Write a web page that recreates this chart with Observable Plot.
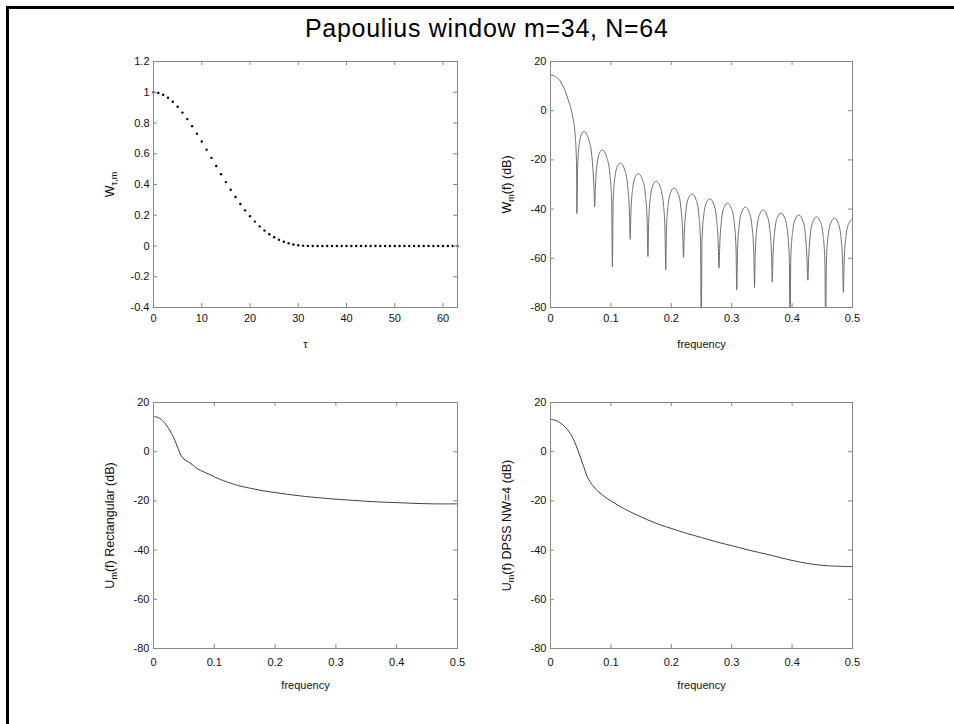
<!DOCTYPE html>
<html>
<head>
<meta charset="utf-8">
<script src="https://cdn.jsdelivr.net/npm/d3@7"></script>
<script src="https://cdn.jsdelivr.net/npm/@observablehq/plot@0.6"></script>
<style>
  body { margin: 0; background: #fff; }
  #fig { position: relative; width: 954px; height: 724px; overflow: hidden; background: #fff;
         font-family: "Liberation Sans", Arial, sans-serif; }
  .panel { position: absolute; }
  .panel svg { background: transparent !important; max-width: none !important; overflow: visible; }
  #border { position: absolute; left: 6px; top: 6px; right: -20px; bottom: -20px;
            border-left: 3px solid #000; border-top: 3px solid #000; z-index: 5; pointer-events: none; }
  #title { position: absolute; left: 305px; top: 16px; font-size: 25px; line-height: 25px;
           letter-spacing: 0.7px; color: #000; white-space: nowrap; z-index: 6; }
</style>
</head>
<body>
<div id="fig">
  <div id="title">Papoulius window m=34, N=64</div>
  <div id="border"></div>
  <div class="panel" id="tl" style="left:0;top:0"></div>
  <div class="panel" id="tr" style="left:477px;top:0"></div>
  <div class="panel" id="bl" style="left:0;top:362px"></div>
  <div class="panel" id="br" style="left:477px;top:362px"></div>
</div>
<script>
// ---------- DATA ----------
// Top-left: window values w(tau), tau = 0..63
const tau = [0,1,2,3,4,5,6,7,8,9,10,11,12,13,14,15,16,17,18,19,20,21,22,23,24,25,26,27,28,29,30,31,
             32,33,34,35,36,37,38,39,40,41,42,43,44,45,46,47,48,49,50,51,52,53,54,55,56,57,58,59,60,61,62,63];
const wTau = [1.0000,0.9958,0.9836,0.9641,0.9378,0.9054,0.8678,0.8255,0.7796,0.7306,0.6794,0.6267,
              0.5734,0.5199,0.4671,0.4156,0.3658,0.3183,0.2735,0.2318,0.1935,0.1587,0.1276,0.1003,
              0.0768,0.0569,0.0406,0.0275,0.0175,0.0102,0.0053,0.0022,0.0007,0.0001,
              0,0,0,0,0,0,0,0,0,0,0,0,0,0,0,0,0,0,0,0,0,0,0,0,0,0,0,0,0,0];
const tauTicks = [0,10,20,30,40,50,60];
const wTicks = [-0.4,-0.2,0,0.2,0.4,0.6,0.8,1,1.2];

// Top-right: W_m(f) in dB
const wmFreq = [
  0,0.005,0.010,0.015,0.020,0.025,0.030,0.034,0.037,0.039,0.041,0.0425,0.0432,
  0.0437,0.0449,0.0481,0.0525,0.0555,0.0643,0.0687,0.0719,
  0.0731,0.0743,0.0775,0.0819,0.0857,0.0937,0.0981,0.1013,
  0.1025,0.1037,0.1069,0.1113,0.1156,0.1231,0.1275,0.1307,
  0.1319,0.1331,0.1363,0.1407,0.1453,0.1525,0.1569,0.1601,
  0.1613,0.1625,0.1657,0.1701,0.1750,0.1819,0.1863,0.1895,
  0.1908,0.1920,0.1952,0.1996,0.2046,0.2114,0.2158,0.2190,
  0.2202,0.2214,0.2246,0.2290,0.2341,0.2408,0.2452,0.2484,
  0.2496,0.2508,0.2540,0.2584,0.2637,0.2702,0.2746,0.2778,
  0.2790,0.2802,0.2834,0.2878,0.2931,0.2996,0.3040,0.3072,
  0.3084,0.3096,0.3128,0.3172,0.3227,0.3290,0.3334,0.3366,
  0.3378,0.3390,0.3422,0.3466,0.3522,0.3584,0.3628,0.3660,
  0.3672,0.3684,0.3716,0.3760,0.3817,0.3878,0.3922,0.3954,
  0.3966,0.3978,0.4010,0.4054,0.4112,0.4172,0.4216,0.4248,
  0.4261,0.4273,0.4305,0.4349,0.4407,0.4467,0.4511,0.4543,
  0.4555,0.4567,0.4599,0.4643,0.4702,0.4761,0.4805,0.4837,
  0.4849,0.4861,0.4893,0.4937,0.5000];
const wmDb = [
  14.5,14.3,13.6,12.4,10.4,7.6,3.9,0.8,-2.8,-5.5,-10.5,-17.0,-24.0,
  -41.8,-22.8,-12.7,-9.0,-8.5,-12.6,-19.0,-31.1,
  -39.1,-31.3,-20.9,-16.8,-16.0,-19.4,-25.3,-37.2,
  -63.5,-37.2,-26.6,-22.3,-21.3,-24.2,-30.0,-41.6,
  -52.3,-42.0,-31.2,-26.8,-25.6,-28.3,-33.8,-45.4,
  -59.3,-45.4,-34.6,-30.0,-28.7,-31.2,-36.6,-48.1,
  -64.7,-48.3,-37.4,-32.8,-31.4,-33.8,-39.2,-50.6,
  -59.7,-50.8,-39.9,-35.2,-33.8,-36.1,-41.5,-52.8,
  -90,-53.0,-42.0,-37.3,-35.8,-38.0,-43.4,-54.7,
  -64.0,-54.8,-43.9,-39.1,-37.6,-39.8,-45.1,-56.4,
  -72.9,-56.6,-45.6,-40.8,-39.2,-41.3,-46.6,-57.9,
  -71.9,-57.9,-46.8,-42.0,-40.4,-42.5,-47.7,-59.0,
  -69.7,-59.1,-48.1,-43.2,-41.6,-43.6,-48.8,-60.1,
  -90,-60.1,-49.0,-44.1,-42.4,-44.4,-49.5,-60.8,
  -68.9,-60.8,-49.7,-44.8,-43.1,-45.1,-50.2,-61.4,
  -90,-61.5,-50.4,-45.4,-43.7,-45.6,-50.7,-61.9,
  -73.9,-61.9,-50.8,-45.9,-44.1];

// Bottom panels: U_m(f) in dB
const uFreq = [0,0.005,0.01,0.015,0.02,0.025,0.03,0.035,0.04,0.045,0.05,0.055,0.06,0.065,0.07,0.075,0.08,
               0.09,0.1,0.11,0.12,0.14,0.16,0.18,0.2,0.22,0.25,0.28,0.3,0.33,0.36,0.4,0.43,0.46,0.5];
const uRectDb = [14.3,14.1,13.6,12.6,11.2,9.4,7.3,4.7,1.5,-1.4,-3.0,-3.8,-4.6,-5.5,-6.6,-7.3,-7.9,
                 -9.0,-10.2,-11.3,-12.2,-13.8,-14.9,-15.9,-16.6,-17.3,-18.2,-18.9,-19.3,-19.8,-20.3,-20.7,-21.0,-21.2,-21.2];
const uDpssDb = [13.2,13.0,12.6,11.9,11.0,9.8,8.4,6.5,4.0,0.8,-2.6,-6.1,-9.6,-12.0,-13.8,-15.2,-16.4,
                 -18.4,-20.0,-21.5,-22.9,-25.4,-27.6,-29.6,-31.2,-32.8,-34.9,-37.0,-38.2,-40.1,-41.8,-44.2,-45.6,-46.4,-46.7];

const freqTicks = [0,0.1,0.2,0.3,0.4,0.5];
const dbTicks = [-80,-60,-40,-20,0,20];

// ---------- DRAWING ----------
const FONT = "Liberation Sans, Arial, sans-serif";
const BOXC = "#888";
const TXT = "#111";
const PW = 477, PH = 362;

function buildPanel(target, cfg) {
  const {mL, mR, mT, mB, xDomain, yDomain, xTicks, yTicks, marks, xLabel, yParts, xPad} = cfg;
  const fw = PW - mL - mR, fh = PH - mT - mB;
  const fmt = d => String(d);
  const svg = Plot.plot({
    width: PW, height: PH,
    marginLeft: mL, marginRight: mR, marginTop: mT, marginBottom: mB,
    style: {background: "transparent", fontFamily: FONT, fontSize: "11px", color: TXT},
    x: {domain: xDomain, axis: null},
    y: {domain: yDomain, axis: null},
    marks: [
      ...marks,
      Plot.frame({stroke: BOXC}),
      Plot.tickX(xTicks, {x: d => d, insetBottom: fh - 4, stroke: BOXC}),
      Plot.tickX(xTicks, {x: d => d, insetTop: fh - 4, stroke: BOXC}),
      Plot.tickY(yTicks, {y: d => d, insetRight: fw - 4, stroke: BOXC}),
      Plot.tickY(yTicks, {y: d => d, insetLeft: fw - 4, stroke: BOXC}),
      Plot.axisX(xTicks, {anchor: "bottom", tickSize: 0, tickPadding: xPad, tickFormat: fmt, fontSize: 11, label: null}),
      Plot.axisY(yTicks, {anchor: "left", tickSize: 0, tickPadding: 4, tickFormat: fmt, fontSize: 11, label: null}),
      Plot.text([xLabel], {frameAnchor: "bottom", dy: 37, text: d => d, fontSize: 11, fill: TXT,
                           textAnchor: "middle", lineAnchor: "middle"}),
      Plot.text(["@YLABEL@"], {frameAnchor: "left", dx: -44, rotate: -90, text: d => d, fontSize: 12.5, fill: TXT,
                               textAnchor: "middle", lineAnchor: "middle"})
    ]
  });
  // rich y-label with subscripts
  svg.querySelectorAll("text").forEach(t => {
    if (t.textContent === "@YLABEL@") {
      t.textContent = "";
      let shifted = false;
      yParts.forEach(([s, sub]) => {
        const ts = document.createElementNS("http://www.w3.org/2000/svg", "tspan");
        ts.textContent = s;
        if (sub) { ts.setAttribute("font-size", "9"); ts.setAttribute("dy", "3.5"); shifted = true; }
        else if (shifted) { ts.setAttribute("dy", "-3.5"); shifted = false; }
        t.appendChild(ts);
      });
    }
  });
  document.getElementById(target).appendChild(svg);
}

const idx = a => a.map((_, i) => i);

buildPanel("tl", {
  mL: 153, mR: 20, mT: 61, mB: 55, xPad: 7,
  xDomain: [0, 63], yDomain: [-0.4, 1.2], xTicks: tauTicks, yTicks: wTicks,
  marks: [Plot.dot(idx(tau), {x: i => tau[i], y: i => wTau[i], r: 1.2, fill: "#000", stroke: "none"})],
  xLabel: "τ", yParts: [["W"], ["τ,m", true]]
});
buildPanel("tr", {
  mL: 73, mR: 102, mT: 61, mB: 55, xPad: 7,
  xDomain: [0, 0.5], yDomain: [-80, 20], xTicks: freqTicks, yTicks: dbTicks,
  marks: [Plot.line(idx(wmFreq), {x: i => wmFreq[i], y: i => wmDb[i], stroke: "#6e6e6e", strokeWidth: 1, curve: "monotone-x", clip: true})],
  xLabel: "frequency", yParts: [["W"], ["m", true], ["(f) (dB)"]]
});
buildPanel("bl", {
  mL: 153, mR: 20, mT: 40, mB: 76, xPad: 10,
  xDomain: [0, 0.5], yDomain: [-80, 20], xTicks: freqTicks, yTicks: dbTicks,
  marks: [Plot.line(idx(uFreq), {x: i => uFreq[i], y: i => uRectDb[i], stroke: "#404040", strokeWidth: 1, curve: "catmull-rom"})],
  xLabel: "frequency", yParts: [["U"], ["m", true], ["(f) Rectangular (dB)"]]
});
buildPanel("br", {
  mL: 73, mR: 102, mT: 40, mB: 76, xPad: 10,
  xDomain: [0, 0.5], yDomain: [-80, 20], xTicks: freqTicks, yTicks: dbTicks,
  marks: [Plot.line(idx(uFreq), {x: i => uFreq[i], y: i => uDpssDb[i], stroke: "#404040", strokeWidth: 1, curve: "catmull-rom"})],
  xLabel: "frequency", yParts: [["U"], ["m", true], ["(f) DPSS NW=4 (dB)"]]
});
</script>
</body>
</html>
